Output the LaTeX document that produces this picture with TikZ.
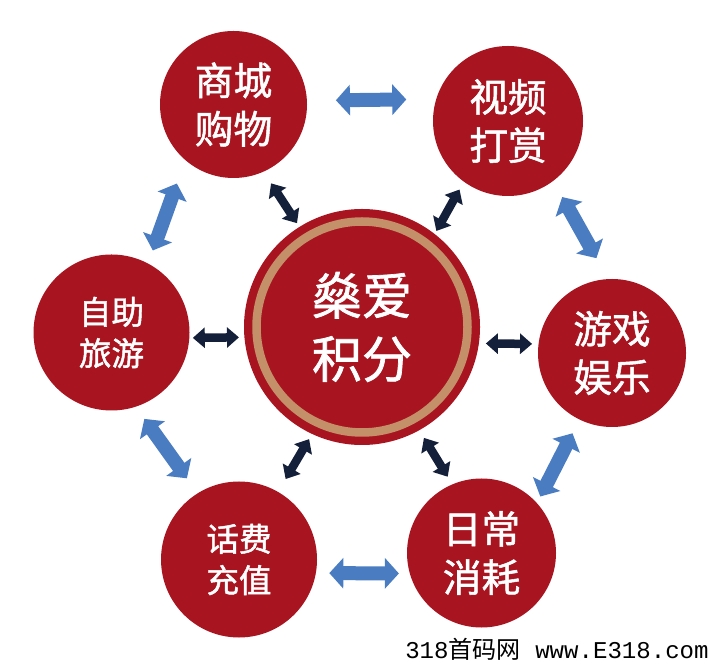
\documentclass[tikz,border=0pt]{standalone}
\usepackage{fontspec}
\usepackage{xcolor}
\usetikzlibrary{arrows.meta}
\newfontfamily\cjk[FakeBold=1.4]{Noto Sans CJK SC}
\newfontfamily\cjkthin{Noto Sans CJK SC}
\setmonofont{Liberation Mono}
\definecolor{discred}{HTML}{A8141F}
\definecolor{ringtan}{HTML}{C4906A}
\definecolor{linkblue}{HTML}{4A7CC2}
\definecolor{linkdark}{HTML}{14203A}
\tikzset{
	disc/.style={circle, fill=discred, text=white, inner sep=0pt, outer sep=0pt, align=center},
	bigdisc/.style={disc, font=\cjk\fontsize{22}{27.5}\selectfont},
	smalldisc/.style={disc, font=\cjk\fontsize{18.5}{23.5}\selectfont},
	bluelink/.style={{Triangle[width=.6cm,length=.28cm]}-{Triangle[width=.6cm,length=.28cm]}, line width=.28cm, draw=linkblue},
	darklink/.style={{Triangle[width=.4cm,length=.24cm]}-{Triangle[width=.4cm,length=.24cm]}, line width=.17cm, draw=linkdark},
}
\begin{document}
\begin{tikzpicture}
	\useasboundingbox (0,0) rectangle (14.18,13.34);
	%coordinates
	\coordinate (shopC)  at (4.67,11.25);
	\coordinate (videoC) at (10.16,10.92);
	\coordinate (gameC)  at (12.24,6.28);
	\coordinate (dailyC) at (9.63,2.28);
	\coordinate (talkC)  at (4.78,2.15);
	\coordinate (selfC)  at (2.23,6.69);
	\coordinate (coreC)  at (7.24,6.80);
	
	%nodes
	\node[disc, minimum size=4.72cm, font=\cjk\fontsize{28.5}{36}\selectfont] (core) at (coreC) {燊爱\\积分};
	\node[circle, draw=ringtan, line width=.17cm, minimum size=4.22cm, inner sep=0pt] (ring) at (coreC) {};
	\node[bigdisc, minimum size=2.94cm] (shop) at (shopC) {商城\\购物};
	\node[bigdisc, minimum size=3cm] (video) at (videoC) {视频\\打赏};
	\node[bigdisc, minimum size=2.96cm] (game) at (gameC) {游戏\\娱乐};
	\node[bigdisc, minimum size=2.98cm] (daily) at (dailyC) {日常\\消耗};
	\node[smalldisc, minimum size=3.12cm] (talk) at (talkC) {话费\\充值};
	\node[smalldisc, minimum size=3.12cm] (self) at (selfC) {自助\\旅游};
	\node[anchor=south east, inner sep=0pt, font=\ttfamily\fontsize{13.7}{16}\selectfont] (mark) at (14.18,.12) {318{\cjkthin 首码网} www.E318.com};
	
	%outer ring
	\draw[bluelink, shorten <=.58cm, shorten >=.60cm] (shop.3.5) -- (video.163.7);
	\draw[bluelink, shorten <=.37cm, shorten >=.48cm] (video.-53.1) -- (game.93.3);
	\draw[bluelink, shorten <=.31cm, shorten >=.15cm] (game.-116.5) -- (daily.42.3);
	\draw[bluelink, shorten <=.22cm, shorten >=.27cm] (daily.196.4) -- (talk.-10.7);
	\draw[bluelink, shorten <=.37cm, shorten >=.30cm] (talk.122.9) -- (self.-72.2);
	\draw[bluelink, shorten <=.28cm, shorten >=.50cm] (self.62.9) -- (shop.229.6);
	
	%spokes
	\draw[darklink, shorten <=.28cm, shorten >=.09cm] (shop.-66.9) -- (core.122.6);
	\draw[darklink, shorten <=.18cm, shorten >=.07cm] (video.234.9) -- (core.52.9);
	\draw[darklink, shorten <=.13cm, shorten >=.14cm] (game.173) -- (core.-8.3);
	\draw[darklink, shorten <=.18cm, shorten >=.18cm] (daily.113.5) -- (core.-61.4);
	\draw[darklink, shorten <=.30cm, shorten >=.12cm] (talk.60.5) -- (core.245);
	\draw[darklink, shorten <=.07cm, shorten >=.11cm] (self.-4) -- (core.185.3);
\end{tikzpicture}
\end{document}
